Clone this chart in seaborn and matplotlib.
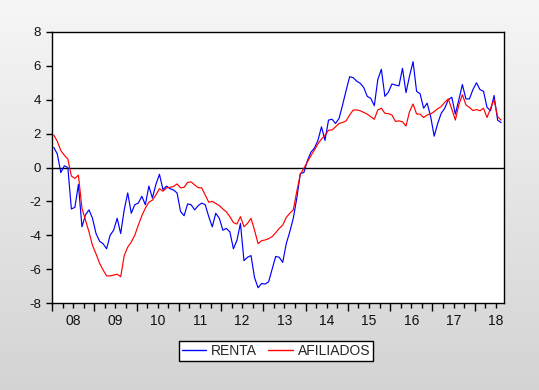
import numpy as np
import pandas as pd
import matplotlib
matplotlib.use("Agg")
import matplotlib.pyplot as plt
import seaborn as sns
from matplotlib.ticker import MultipleLocator, FixedLocator
from matplotlib.lines import Line2D

# ---- data (monthly, 2008M01 .. 2018M08) ----
start_year = 2008
renta = [1.19, 0.8, -0.3, 0.1, 0.0, -2.45, -2.35, -1.0, -3.5, -2.8, -2.5, -3.0,
         -3.9, -4.35, -4.5, -4.8, -4.0, -3.7, -3.0, -3.9, -2.5, -1.5, -2.7, -2.2,
         -2.1, -1.7, -2.2, -1.1, -1.8, -1.0, -0.4, -1.3, -1.1, -1.25, -1.33, -1.5,
         -2.6, -2.85, -2.15, -2.2, -2.5, -2.25, -2.1, -2.2, -2.9, -3.5, -2.7, -3.0,
         -3.7, -3.6, -3.8, -4.8, -4.3, -3.3, -5.5, -5.3, -5.2, -6.5, -7.1, -6.85,
         -6.88, -6.75, -6.0, -5.25, -5.3, -5.6, -4.5, -3.8, -3.0, -1.8, -0.35, -0.3,
         0.4, 0.9, 1.15, 1.6, 2.4, 1.6, 2.8, 2.85, 2.6, 2.9, 3.7, 4.55,
         5.36, 5.3, 5.1, 4.97, 4.72, 4.2, 4.08, 3.65, 5.2, 5.8, 4.2, 4.45,
         4.93, 4.87, 4.82, 5.86, 4.42, 5.4, 6.25, 4.5, 4.35, 3.5, 3.8, 3.0,
         1.85, 2.6, 3.2, 3.5, 4.0, 4.15, 3.15, 4.0, 4.9, 4.05, 4.05, 4.6,
         5.0, 4.6, 4.5, 3.55, 3.35, 4.25, 2.8, 2.65]
afiliados = [1.92, 1.55, 1.0, 0.72, 0.5, -0.5, -0.65, -0.45, -2.4, -3.1, -3.8, -4.6,
             -5.1, -5.65, -6.05, -6.4, -6.4, -6.35, -6.3, -6.45, -5.2, -4.7, -4.4, -4.0,
             -3.4, -2.85, -2.4, -2.05, -1.93, -1.62, -1.25, -1.4, -1.2, -1.17, -1.12, -0.97,
             -1.2, -1.17, -0.88, -0.85, -1.03, -1.19, -1.2, -1.63, -2.05, -2.0, -2.12, -2.25,
             -2.45, -2.62, -2.9, -3.25, -3.34, -2.9, -3.5, -3.3, -3.0, -3.7, -4.5, -4.32,
             -4.28, -4.2, -4.08, -3.85, -3.6, -3.4, -2.95, -2.7, -2.5, -1.4, -0.4, -0.05,
             0.33, 0.7, 1.03, 1.4, 1.68, 1.9, 2.2, 2.22, 2.4, 2.6, 2.66, 2.75,
             3.1, 3.39, 3.4, 3.35, 3.25, 3.15, 3.0, 2.85, 3.4, 3.5, 3.2, 3.18,
             3.1, 2.72, 2.75, 2.7, 2.45, 3.3, 3.75, 3.16, 3.15, 2.95, 3.1, 3.16,
             3.3, 3.47, 3.6, 3.85, 4.05, 3.45, 2.8, 3.7, 4.3, 3.7, 3.55, 3.36,
             3.42, 3.35, 3.5, 2.95, 3.5, 4.0, 3.0, 2.8]
series_names = ["RENTA", "AFILIADOS"]
series_colors = ["#0000ff", "#ff0000"]
year_labels = ["08", "09", "10", "11", "12", "13", "14", "15", "16", "17", "18"]
y_ticks = [-8, -6, -4, -2, 0, 2, 4, 6, 8]

n = len(renta)
t = start_year + (np.arange(n) + 0.5) / 12.0
df = pd.concat([
    pd.DataFrame({"t": t, "value": renta, "serie": series_names[0]}),
    pd.DataFrame({"t": t, "value": afiliados, "serie": series_names[1]}),
])

sns.set_style("white")
plt.rcParams["font.family"] = ["Liberation Sans", "DejaVu Sans"]
plt.rcParams["axes.unicode_minus"] = False

fig = plt.figure(figsize=(5.39, 3.90), dpi=100)

# background gradient
bg = fig.add_axes([0, 0, 1, 1], zorder=-10)
grad = np.linspace(0.965, 0.83, 256).reshape(-1, 1)
bg.imshow(np.dstack([grad, grad, grad]), aspect="auto", extent=[0, 1, 0, 1],
          interpolation="bilinear")
bg.set_axis_off()

ax = fig.add_axes([52 / 539, 1 - 303 / 390, (504 - 52) / 539, (303 - 32) / 390])
ax.set_facecolor("white")

sns.lineplot(data=df, x="t", y="value", hue="serie", palette=series_colors,
             hue_order=series_names, linewidth=0.85, ax=ax, legend=False)
ax.axhline(0, color="black", linewidth=1.0, zorder=1)

ax.set_xlim(start_year, start_year + (504.3 - 52.3) / 42.27)
ax.set_ylim(-8, 8)
ax.set_yticks(y_ticks)
ax.set_yticklabels([str(v) for v in y_ticks])
ax.set_xlabel("")
ax.set_ylabel("")

for s in ax.spines.values():
    s.set_color("black")
    s.set_linewidth(1.0)

ax.tick_params(axis="y", direction="out", length=4, width=1, color="black",
               pad=4, labelsize=9.5, labelcolor="#111111", left=True)
years = np.arange(start_year, start_year + len(year_labels))
ax.xaxis.set_major_locator(FixedLocator(years))
ax.xaxis.set_minor_locator(MultipleLocator(0.25))
ax.tick_params(axis="x", which="major", direction="out", length=6, width=1,
               color="black", labelbottom=False, bottom=True)
ax.tick_params(axis="x", which="minor", direction="out", length=3.5, width=1,
               color="black", bottom=True)

sec = ax.secondary_xaxis("bottom")
sec.set_xticks(years + 0.5)
sec.set_xticklabels(year_labels)
sec.tick_params(axis="x", length=0, pad=8, labelsize=10, labelcolor="#111111")
sec.spines["bottom"].set_visible(False)

handles = [Line2D([], [], color=c, linewidth=1.0) for c in series_colors]
leg = fig.legend(handles, series_names, loc="center", bbox_to_anchor=(276 / 539, 1 - 351 / 390),
                 ncol=2, frameon=True, fancybox=False, edgecolor="black", facecolor="white",
                 framealpha=1, fontsize=10, handlelength=1.75, handletextpad=0.35,
                 columnspacing=0.8, borderpad=0.25, borderaxespad=0)
leg.get_frame().set_linewidth(1.0)

fig.savefig("out.png", dpi=100)
